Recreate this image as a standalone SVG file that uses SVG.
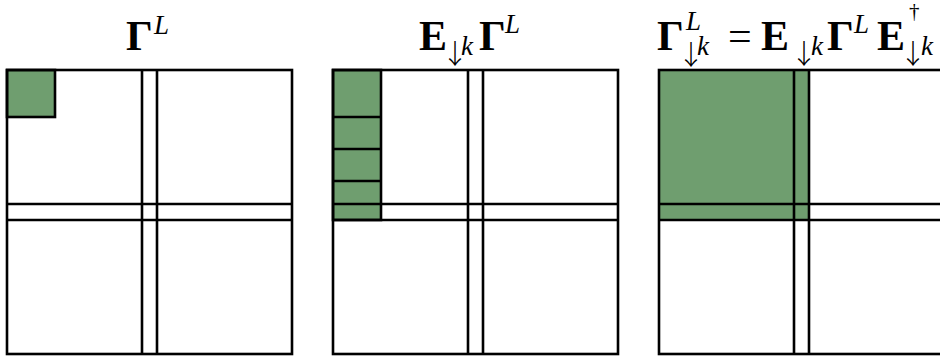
<svg xmlns="http://www.w3.org/2000/svg" width="940" height="356" viewBox="0 0 940 356">
<defs>
<style>
.ln{fill:none;stroke:#000;stroke-width:2.6}
.g{fill:#6f9e6f}
.t{font-family:"Liberation Serif","DejaVu Serif",serif;font-size:42px;fill:#000}
.b{font-weight:bold;font-size:42px}
.i{font-style:italic;font-size:27px}
.d{font-size:21px}
.a{font-family:"Noto Sans CJK JP","Noto Sans CJK SC",sans-serif;font-size:27px;font-weight:300;fill:#000;text-anchor:middle}
</style>
<g id="grid">
<rect class="ln" x="0" y="0" width="285" height="284"/>
<line class="ln" x1="135" y1="0" x2="135" y2="284"/>
<line class="ln" x1="150" y1="0" x2="150" y2="284"/>
<line class="ln" x1="0" y1="134" x2="285" y2="134"/>
<line class="ln" x1="0" y1="150" x2="285" y2="150"/>
</g>
</defs>
<g id="panel1">
<rect class="g" x="7" y="70" width="48" height="47"/>
<use href="#grid" x="7" y="70"/>
<rect class="ln" x="7" y="70" width="48" height="47"/>
<text id="title1" class="t"><tspan class="b" x="126" y="50">Γ</tspan><tspan class="i" x="154" y="34">L</tspan></text>
</g>
<g id="panel2">
<rect class="g" x="333" y="70" width="48" height="150"/>
<use href="#grid" x="333" y="70"/>
<rect class="ln" x="333" y="70" width="48" height="150"/>
<line class="ln" x1="333" y1="117" x2="381" y2="117"/>
<line class="ln" x1="333" y1="149" x2="381" y2="149"/>
<line class="ln" x1="333" y1="181" x2="381" y2="181"/>
<text id="title2" class="t"><tspan class="b" x="419" y="50">E</tspan><tspan class="i" x="461" y="55">k</tspan><tspan class="b" x="479" y="50">Γ</tspan><tspan class="i" x="505" y="33">L</tspan></text>
<text class="a" x="455" y="64">↓</text>
</g>
<g id="panel3">
<rect class="g" x="659" y="70" width="150" height="150"/>
<use href="#grid" x="659" y="70"/>
<text id="title3" class="t"><tspan class="b" x="657" y="50">Γ</tspan><tspan class="i" x="686" y="30">L</tspan><tspan class="i" x="697" y="55">k</tspan><tspan x="728" y="50">=</tspan><tspan class="b" x="761" y="50">E</tspan><tspan class="i" x="811" y="55">k</tspan><tspan class="b" x="827" y="50">Γ</tspan><tspan class="i" x="854" y="33">L</tspan><tspan class="b" x="877" y="50">E</tspan><tspan class="d" x="909" y="18">†</tspan><tspan class="i" x="921" y="55">k</tspan></text>
<text class="a" x="691" y="65">↓</text>
<text class="a" x="804" y="64">↓</text>
<text class="a" x="913" y="64">↓</text>
</g>
</svg>
